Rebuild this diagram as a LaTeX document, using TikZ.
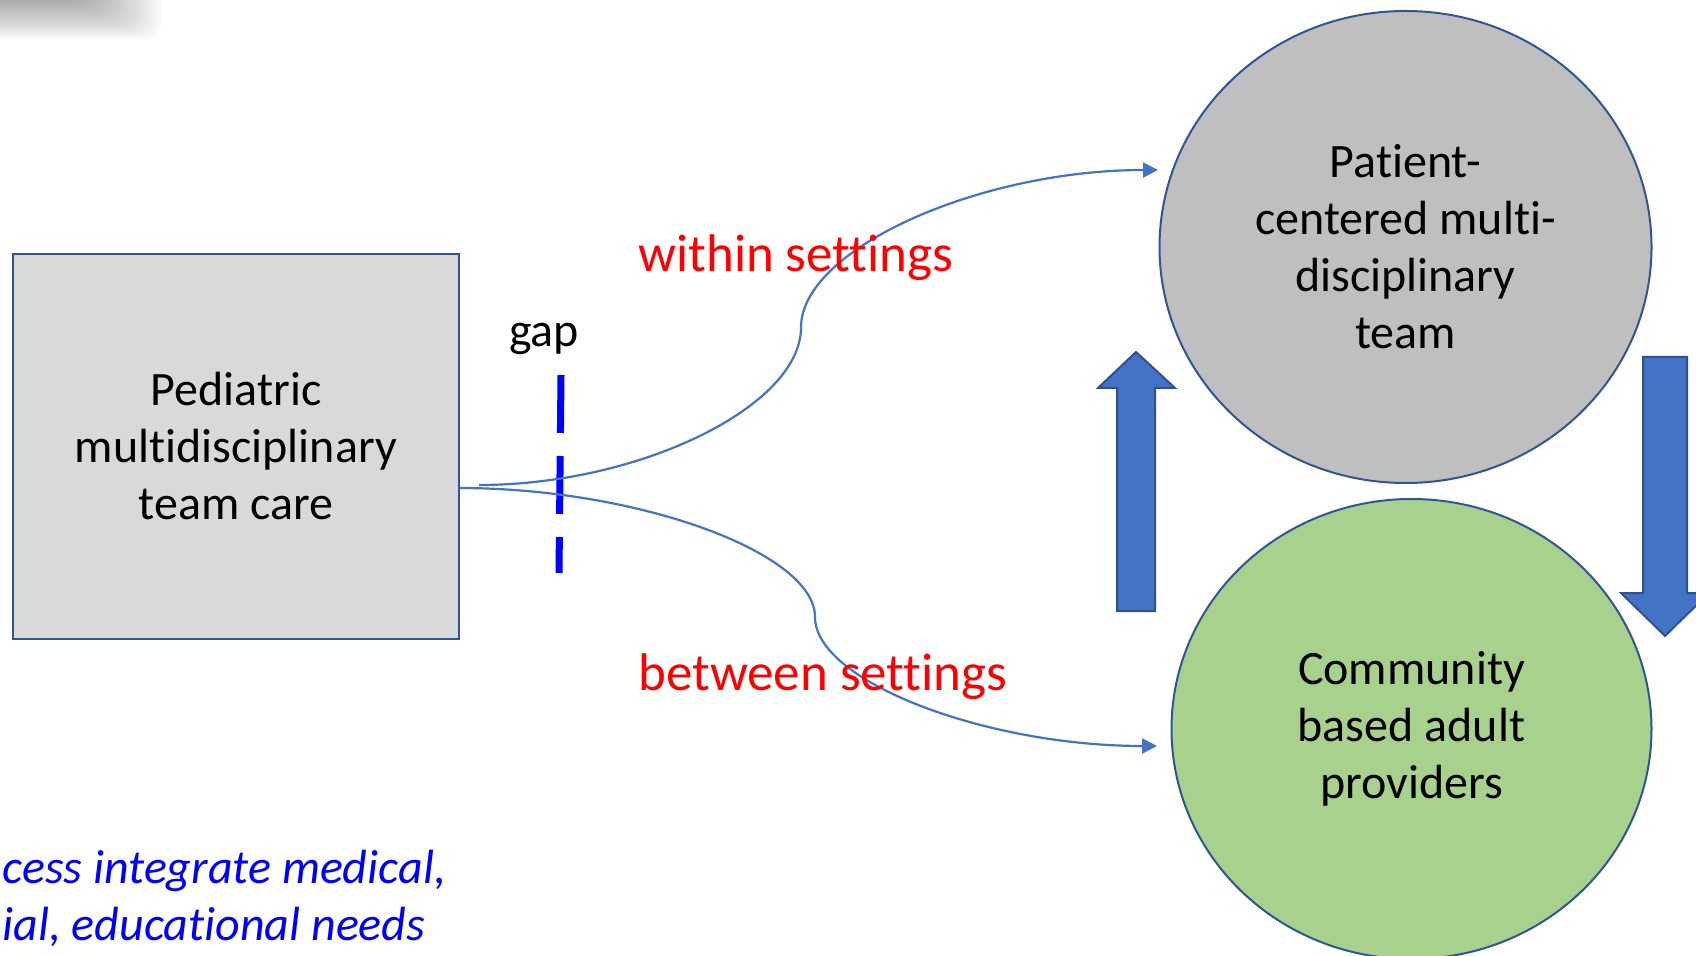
\documentclass[tikz,border=0pt]{standalone}
\usepackage{fontspec}
\setmainfont{Carlito}[Ligatures=CommonOff]
\usetikzlibrary{arrows.meta,shapes.geometric}
\definecolor{boxfill}{HTML}{D9D9D9}
\definecolor{edge}{HTML}{2F5597}
\definecolor{grayfill}{HTML}{BFBFBF}
\definecolor{greenfill}{HTML}{A9D18E}
\definecolor{connblue}{HTML}{4472C4}
\definecolor{arrowedge}{HTML}{2F528F}
\definecolor{labelred}{HTML}{FF0000}
\definecolor{pureblue}{HTML}{0000FF}
\begin{document}
\begin{tikzpicture}[x=0.5pt,y=-0.5pt,
  txt/.style={font=\fontsize{24}{28.5}\selectfont, align=center, text=black},
  boxnode/.style={rectangle, draw=edge, fill=boxfill, line width=1pt, inner sep=0pt,
    minimum width=223pt, minimum height=192.5pt},
  ellnode/.style={ellipse, draw=edge, line width=1pt, inner sep=0pt},
  conn/.style={draw=connblue, line width=1.1pt, -{Triangle[length=7.5pt,width=7.5pt]}},
  redlabel/.style={font=\fontsize{26.5}{31}\selectfont, text=labelred, inner sep=0pt},
  blocka/.style={fill=connblue, draw=arrowedge, line width=1pt, line join=miter},
  note/.style={font=\fontsize{24}{28.5}\selectfont\itshape, text=pureblue, inner sep=0pt}]
\useasboundingbox (0,0) rectangle (1696,956);

% blurred shadow at top-left
\foreach \i in {0,...,24}
  \fill[black, opacity=0.016, rounded corners=8pt] (-30,-30) rectangle (85+3.2*\i, 1+1.6*\i);

% main nodes
\node[boxnode, txt] (ped) at (236,446.5) {Pediatric\\multidisciplinary\\team care};
\node[ellnode, txt, fill=grayfill, minimum width=246pt, minimum height=236pt]
  (pat) at (1405.5,247) {Patient-\\centered multi-\\disciplinary\\team};
\node[ellnode, txt, fill=greenfill, minimum width=240pt, minimum height=230pt]
  (com) at (1411.5,729) {Community\\based adult\\providers};

% gap marker
\node[txt, anchor=base] (gap) at (544,347) {gap};
\draw[pureblue, line width=3.5pt, dash pattern=on 29pt off 11.5pt] (561,375) -- (559,573);

% connectors
\coordinate (s1) at (479,485);
\coordinate (e1) at (1158,170);
\coordinate (s2) at (459,488);
\coordinate (e2) at (1157,746);
\draw[conn] (s1) .. controls (640,485) and (801,406) .. (801,327.5)
  .. controls (801,249) and (979.5,170) .. (e1);
\draw[conn] (s2) .. controls (637,488) and (815,552.5) .. (815,617)
  .. controls (815,681.5) and (986,746) .. (e2);

\node[redlabel, anchor=base west] (within) at (638,272) {within settings};
\node[redlabel, anchor=base west] (between) at (638,690) {between settings};

% block arrows
\draw[blocka] (1117,611) -- (1117,388) -- (1098,388) -- (1136,352) -- (1175,388)
  -- (1155,388) -- (1155,611) -- cycle;
\draw[blocka] (1643,357) -- (1687,357) -- (1687,593) -- (1709,593) -- (1665,636)
  -- (1621,593) -- (1643,593) -- cycle;

% bottom-left note (as visible in the picture)
\node[note, anchor=base west] (note1) at (2,883) {cess integrate medical,};
\node[note, anchor=base west] (note2) at (2,940) {ial, educational needs};
\end{tikzpicture}
\end{document}
